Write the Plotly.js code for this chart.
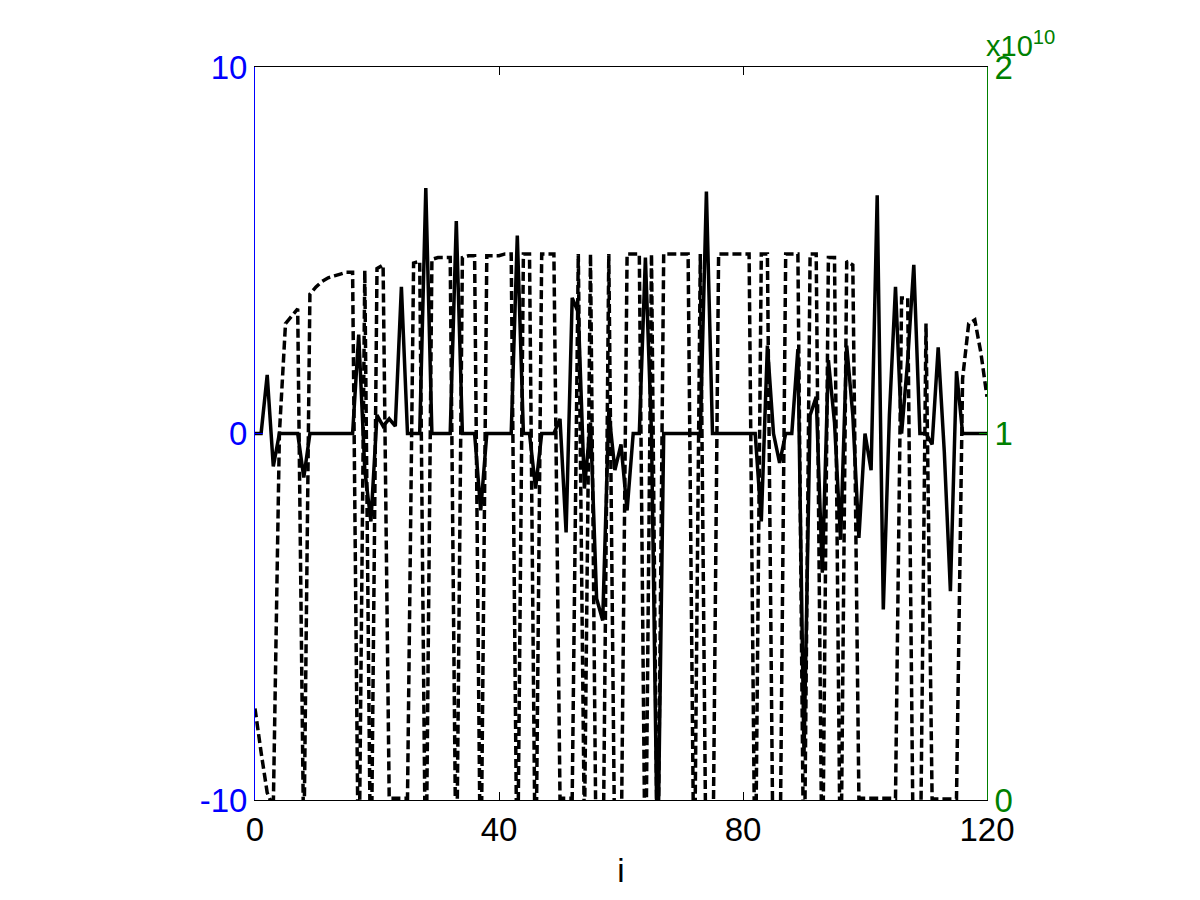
<!DOCTYPE html>
<html>
<head>
<meta charset="utf-8">
<script src="https://cdn.plot.ly/plotly-3.0.1.min.js"></script>
<style>
  html, body { margin: 0; padding: 0; background: #fff; }
  #plot { width: 1200px; height: 900px; }
</style>
</head>
<body>
<div id="plot"></div>
<script>
// index i = 0..120
const iValues = Array.from({ length: 121 }, (_, k) => k);

// left axis series (solid)
const leftValues = [
  0, 0, 1.6, -0.9, 0, 0, 0, 0, -1.2, 0,
  0, 0, 0, 0, 0, 0, 0, 2.7, -1.0, -2.4,
  0.5, 0.2, 0.4, 0.2, 4.0, 0, 0, 0, 6.7, 0,
  0, 0, 0, 5.8, 0, 0, 0, -2.1, 0, 0,
  0, 0, 0, 5.4, 0, 0, -1.5, 0, 0, 0,
  0.4, -2.7, 3.7, 3.3, -1.5, 0.3, -4.5, -5.1, 0.6, -1.0,
  -0.3, -2.1, 0, 0, 4.8, 0, -12, 0, 0, 0,
  0, 0, 0, 0, 6.6, 0, 0, 0, 0, 0,
  0, 0, 0, -2.4, 2.4, 0, -0.8, 0, 0, 2.3,
  -8.8, 0.5, 1.0, -3.8, 2.0, 0.3, -2.9, 2.4, 0.5, -2.85,
  0, -1.0, 6.5, -4.8, 0.5, 4.0, 0, 2.0, 4.6, 0,
  0, -0.3, 2.35, -0.5, -4.3, 1.7, 0, 0, 0, 0,
  0,
];

// right axis series (dashed), in units of 1e10
const rightValues = [
  0.25, 0.13, 0.02, -0.02, 1.0, 1.30, 1.32, 1.34, -0.15, 1.38,
  1.40, 1.415, 1.425, 1.43, 1.435, 1.44, 1.44, -0.3, 1.445, -0.3,
  1.45, 1.46, 0.005, 0.005, 0.005, 0.005, 1.465, 1.47, -0.3, 1.475,
  1.48, 1.48, 1.48, -0.3, 1.48, 1.485, 1.485, -0.3, 1.485, 1.485,
  1.485, 1.49, 1.49, -0.3, 1.49, 1.49, -0.3, 1.49, 1.49, 1.49,
  0.005, 0.005, 0.005, 1.49, -0.1, 1.49, -0.3, -0.3, 1.49, -0.2,
  -0.2, 1.49, 1.49, 1.49, -0.3, 1.49, -0.3, 1.49, 1.49, 1.49,
  1.49, 1.49, -0.3, 1.49, -0.3, -0.3, 1.49, 1.49, 1.49, 1.49,
  1.49, 1.49, -0.3, 1.49, 1.49, -0.3, -0.3, 1.49, 1.49, 1.49,
  -0.3, 1.49, 1.49, -0.3, 1.48, 1.48, -0.3, 1.47, 1.46, 0.005,
  0.005, 0.005, 0.005, 0.005, 0.005, 0.005, 1.37, 1.37, -0.3, -0.3,
  1.3, 0.003, 0.003, 0.003, 0.003, 0.003, 1.15, 1.30, 1.31, 1.22,
  1.10,
];

const xTicks = [0, 40, 80, 120];
const leftTicks = [-10, 0, 10];
const leftTickText = ["-10", "0", "10"];
const rightTicks = [0, 1, 2];

const FONT = "Liberation Sans, Arial, Helvetica, sans-serif";
const BLUE = "#0000ff";
const GREEN = "#008000";
const TICK_SIZE = 33;

const plotData = [
  {
    type: "scatter",
    mode: "lines",
    x: iValues,
    y: leftValues,
    yaxis: "y",
    line: { color: "black", width: 3.5, simplify: false },
    hoverinfo: "skip",
  },
  {
    type: "scatter",
    mode: "lines",
    x: iValues,
    y: rightValues,
    yaxis: "y2",
    line: { color: "black", width: 3.5, dash: "9px,4px", simplify: false },
    hoverinfo: "skip",
  },
];

const layout = {
  width: 1200,
  height: 900,
  paper_bgcolor: "white",
  plot_bgcolor: "white",
  showlegend: false,
  margin: { l: 255, r: 213, t: 67, b: 100, pad: 0 },
  font: { family: FONT, size: TICK_SIZE, color: "black" },
  xaxis: {
    range: [0, 120],
    tickvals: xTicks,
    ticks: "inside",
    ticklen: 8,
    tickcolor: "black",
    showline: true,
    linecolor: "black",
    linewidth: 1,
    mirror: "ticks",
    showgrid: false,
    zeroline: false,
    tickfont: { family: FONT, size: TICK_SIZE, color: "black" },
    title: { text: "i", font: { family: FONT, size: TICK_SIZE, color: "black" }, standoff: 12 },
  },
  yaxis: {
    range: [-10, 10],
    tickvals: leftTicks,
    ticktext: leftTickText,
    ticks: "inside",
    ticklen: 8,
    tickcolor: BLUE,
    showline: true,
    linecolor: BLUE,
    linewidth: 1,
    showgrid: false,
    zeroline: false,
    tickfont: { family: FONT, size: TICK_SIZE, color: BLUE },
  },
  yaxis2: {
    range: [0, 2],
    tickvals: rightTicks,
    overlaying: "y",
    side: "right",
    ticks: "inside",
    ticklen: 8,
    tickcolor: GREEN,
    showline: true,
    linecolor: GREEN,
    linewidth: 1,
    showgrid: false,
    zeroline: false,
    tickfont: { family: FONT, size: TICK_SIZE, color: GREEN },
  },
  annotations: [
    {
      // exponent label of the right axis
      xref: "paper",
      yref: "paper",
      x: 1,
      y: 1,
      xanchor: "left",
      yanchor: "bottom",
      xshift: -3,
      yshift: 3,
      showarrow: false,
      text: "x10<sup>10</sup>",
      font: { family: FONT, size: 29, color: GREEN },
    },
  ],
};

Plotly.newPlot(document.getElementById("plot"), plotData, layout, {
  staticPlot: true,
  displayModeBar: false,
});
</script>
</body>
</html>
